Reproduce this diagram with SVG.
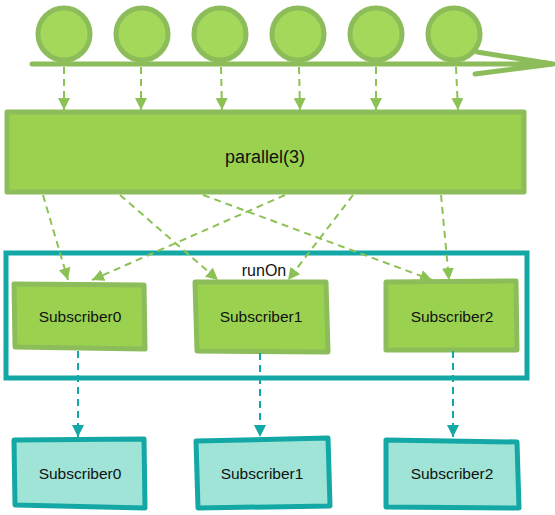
<svg xmlns="http://www.w3.org/2000/svg" width="555" height="515" viewBox="0 0 555 515">
<defs>
<style>
.gs{fill:#9ad250;stroke:#8cbd5a;stroke-width:5;stroke-linejoin:round}
.ts{fill:#9fe4d6;stroke:#13a8a5;stroke-width:5;stroke-linejoin:round}
.bubble{fill:#a4d85a;stroke:#8cbd5a;stroke-width:5}
.lbl{font-family:"Liberation Sans",Arial,sans-serif;font-size:15.5px;fill:#111;text-anchor:middle}
.ga{fill:none;stroke:#8cc255;stroke-width:2;stroke-dasharray:7 5;marker-end:url(#gh)}
.ta{fill:none;stroke:#13a8a5;stroke-width:2;stroke-dasharray:7 5;marker-end:url(#th)}
</style>
<marker id="gh" markerWidth="14" markerHeight="14" refX="12" refY="6" orient="auto" markerUnits="userSpaceOnUse"><path d="M0,0 L12,6 L0,12 Z" fill="#8cc255"/></marker>
<marker id="th" markerWidth="14" markerHeight="14" refX="12" refY="6" orient="auto" markerUnits="userSpaceOnUse"><path d="M0,0 L12,6 L0,12 Z" fill="#13a8a5"/></marker>
</defs>
<g id="timeline">
<circle class="bubble" cx="64" cy="34" r="26"/>
<circle class="bubble" cx="142" cy="34" r="26"/>
<circle class="bubble" cx="220" cy="34" r="26"/>
<circle class="bubble" cx="298" cy="34" r="26"/>
<circle class="bubble" cx="376" cy="34" r="26"/>
<circle class="bubble" cx="454" cy="34" r="26"/>
<path d="M32,64 L553,64 M477,52 L553,64 L475,74" fill="none" stroke="#8cbd5a" stroke-width="5" stroke-linecap="round" stroke-linejoin="round"/>
</g>
<g id="parallel">
<rect class="gs" x="7" y="112" width="517" height="80"/>
<text class="lbl" x="265" y="163" style="font-size:18px">parallel(3)</text>
</g>
<g id="runOn">
<rect x="6" y="253" width="521" height="125" fill="none" stroke="#13a8a5" stroke-width="5"/>
<text class="lbl" x="264" y="276" style="font-size:16px">runOn</text>
</g>
<g id="sub0"><path class="gs" d="M14,284 L144,285 L145,349 L15,347 Z"/><text class="lbl" x="80" y="322">Subscriber0</text></g>
<g id="sub1"><path class="gs" d="M195,282 L326,282 L328,352 L197,351 Z"/><text class="lbl" x="261" y="322">Subscriber1</text></g>
<g id="sub2"><path class="gs" d="M386,282 L516,281 L517,350 L386,350 Z"/><text class="lbl" x="452" y="322">Subscriber2</text></g>
<g id="out0"><path class="ts" d="M14,440 L144,439 L145,508 L15,505 Z"/><text class="lbl" x="80" y="479">Subscriber0</text></g>
<g id="out1"><path class="ts" d="M196,441 L328,438 L330,506 L198,508 Z"/><text class="lbl" x="262" y="479">Subscriber1</text></g>
<g id="out2"><path class="ts" d="M386,440 L517,442 L519,508 L386,507 Z"/><text class="lbl" x="452" y="479">Subscriber2</text></g>
<g id="connectors">
<path class="ga" d="M64,67 L64,110"/>
<path class="ga" d="M141,67 L141,110"/>
<path class="ga" d="M221,67 L222,110"/>
<path class="ga" d="M299,67 L300,110"/>
<path class="ga" d="M376,67 L376,110"/>
<path class="ga" d="M456,67 L458,110"/>
<path class="ga" d="M43,195 L68,280"/>
<path class="ga" d="M120,195 L218,280"/>
<path class="ga" d="M203,195 L432,280"/>
<path class="ga" d="M285,195 L92,280"/>
<path class="ga" d="M353,195 L288,280"/>
<path class="ga" d="M441,195 L449,280"/>
<path class="ta" d="M78,351 L78,437"/>
<path class="ta" d="M260,353 L260,437"/>
<path class="ta" d="M453,351 L453,437"/>
</g>
</svg>
